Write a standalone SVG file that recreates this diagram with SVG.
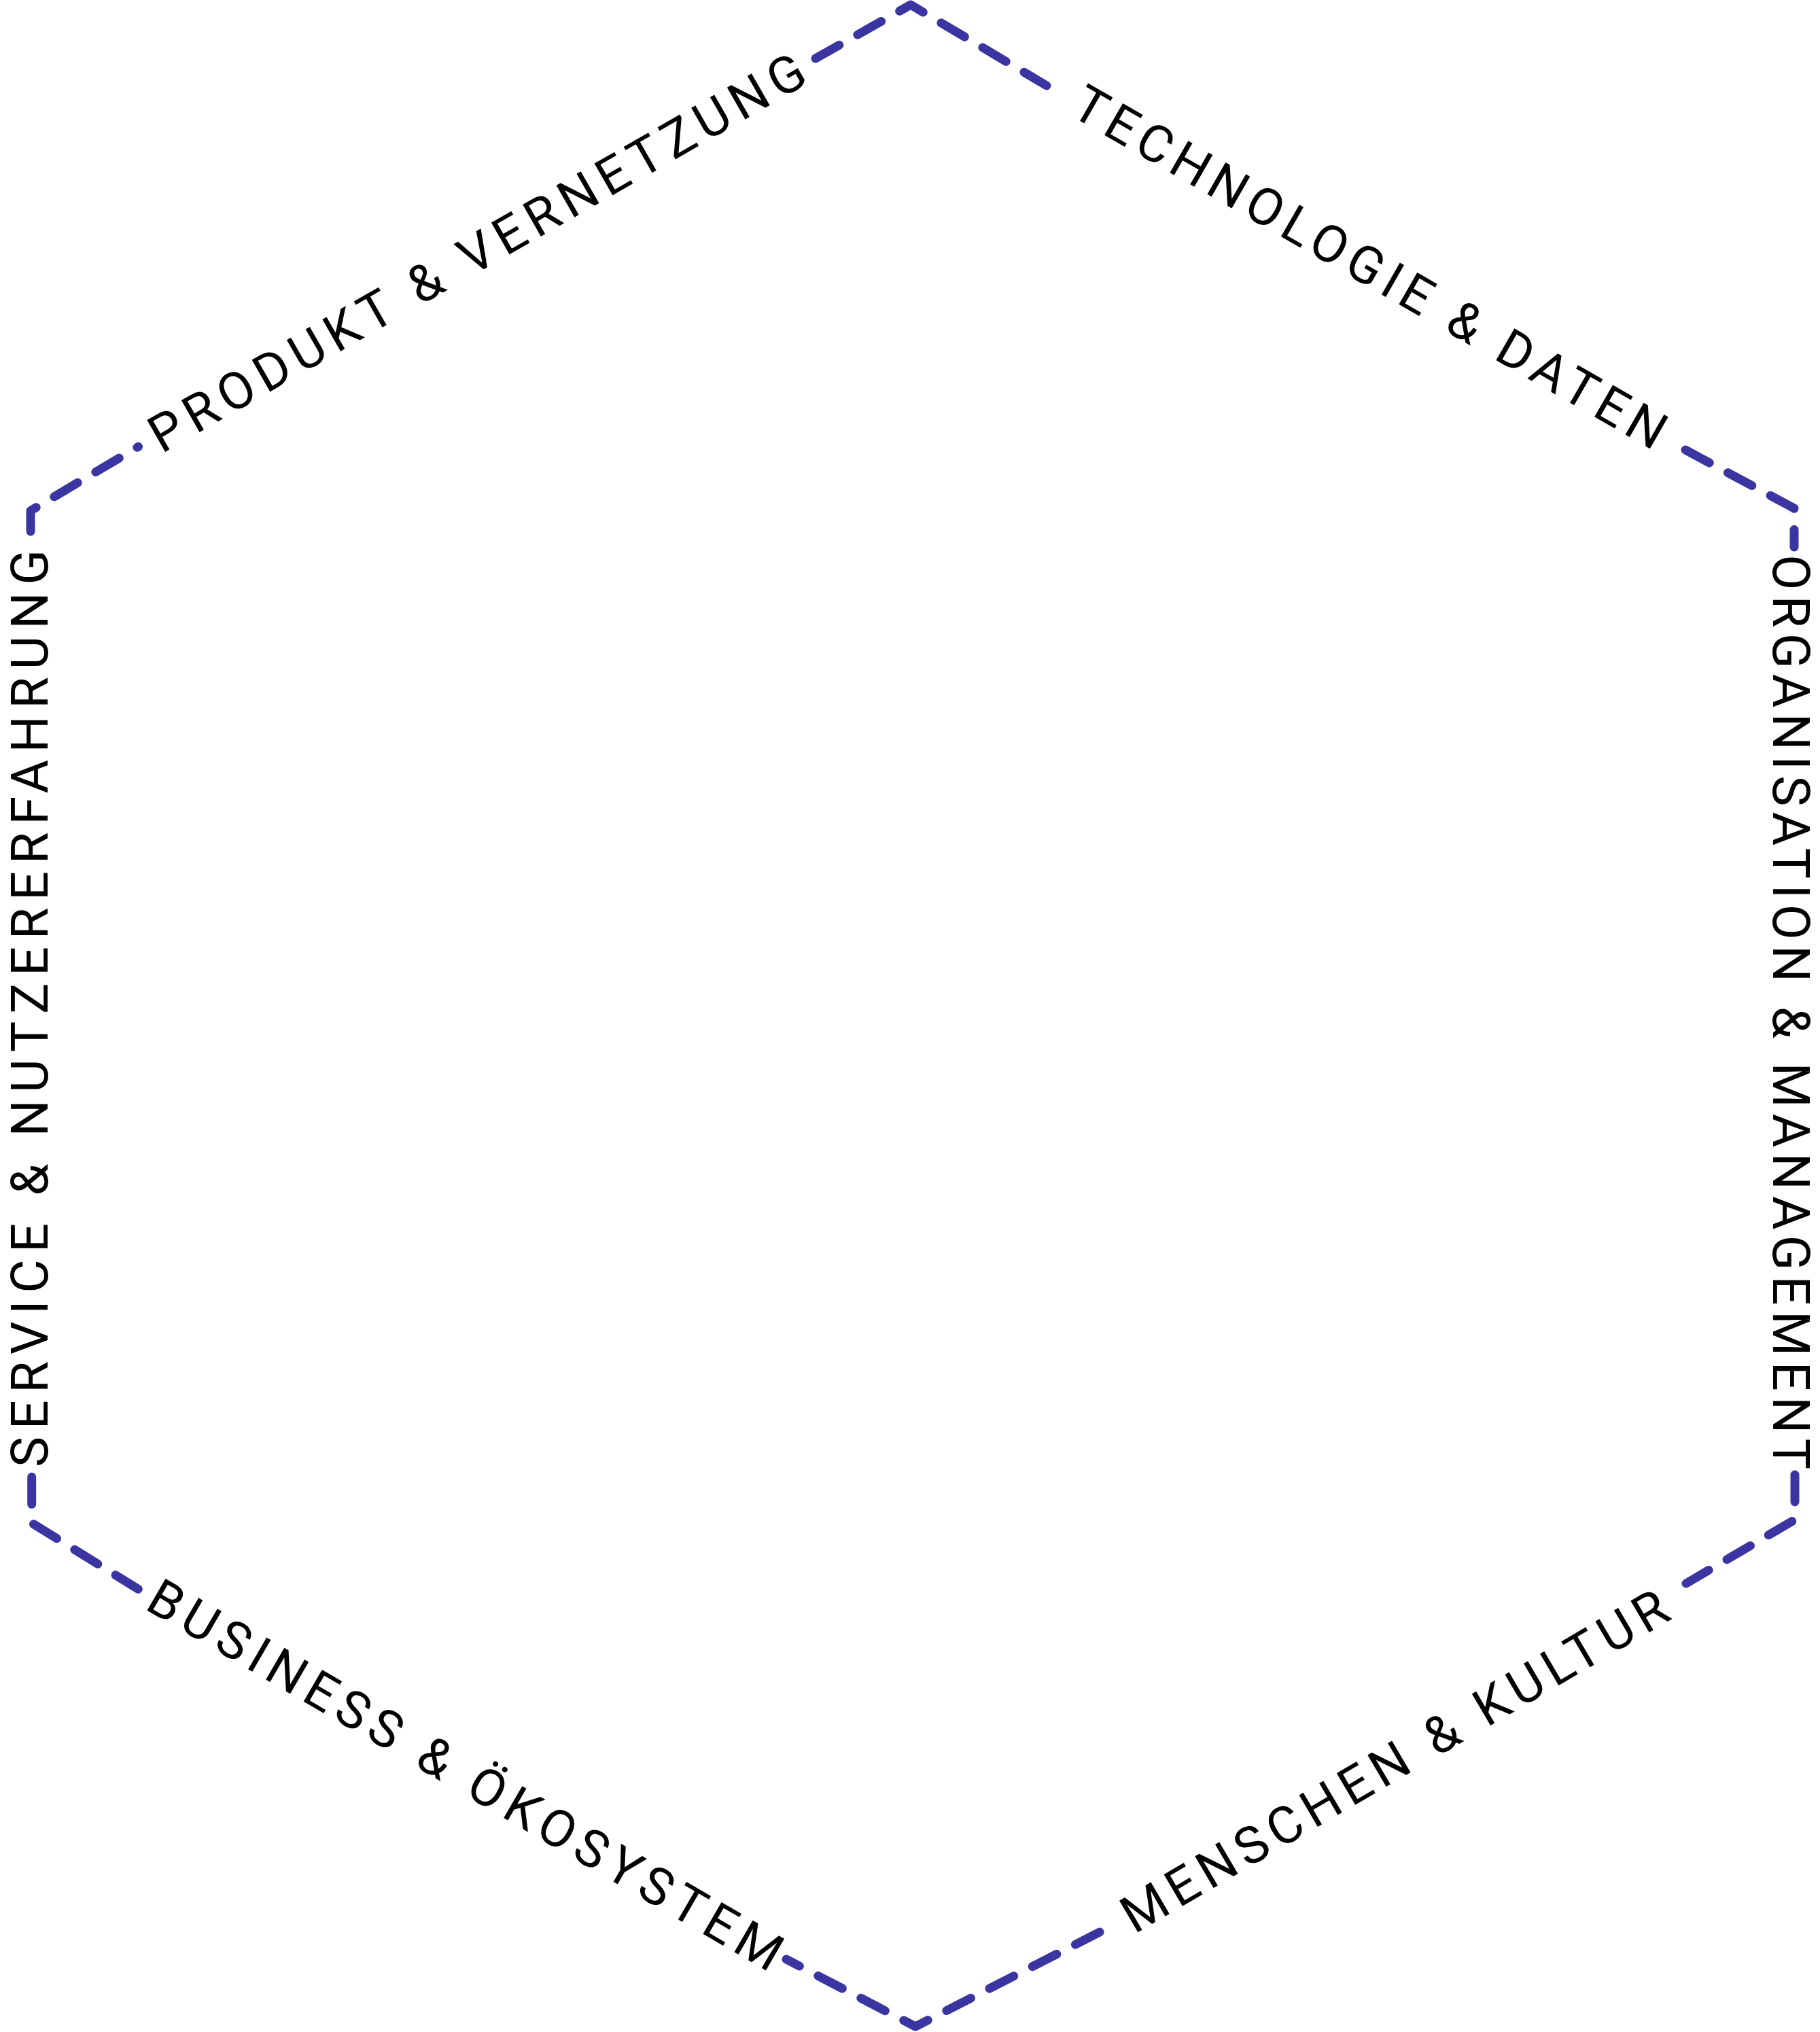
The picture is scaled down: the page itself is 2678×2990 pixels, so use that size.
<svg xmlns="http://www.w3.org/2000/svg" width="2678" height="2990" viewBox="0 0 2678 2990">
  <style>
    .edge { fill: none; stroke: #3a35a0; stroke-width: 13; stroke-linecap: round; stroke-linejoin: round; stroke-dasharray: 40 31; }
    .label { font-family: Roboto, "Liberation Sans", "DejaVu Sans", sans-serif; font-size: 76px; font-weight: 400; fill: #000000; }
  </style>
  <rect x="0" y="0" width="2678" height="2990" fill="#ffffff"/>
  <g id="hexagon-outline">
    <path class="edge" d="M45 782 L45 751.5 L203.5 657.3"/>
    <path class="edge" d="M1200 86 L1340 7 L1540 126"/>
    <path class="edge" d="M2480 662 L2640 748 L2640 805"/>
    <path class="edge" d="M2641 2170 L2641 2236 L2481 2330"/>
    <path class="edge" d="M1618 2843 L1347 2982 L1157 2883"/>
    <path class="edge" d="M46.7 2173.3 L46.7 2241 L203.3 2338.3"/>
  </g>
  <g id="label-produkt">
    <text class="label" transform="translate(243 665) rotate(-29.83)" x="-6" y="0" textLength="1100" lengthAdjust="spacing">PRODUKT &amp; VERNETZUNG</text>
  </g>
  <g id="label-technologie">
    <text class="label" transform="translate(1575 170) rotate(29.9)" x="-3" y="0" textLength="993" lengthAdjust="spacing">TECHNOLOGIE &amp; DATEN</text>
  </g>
  <g id="label-organisation">
    <text class="label" transform="translate(2609 820) rotate(90)" x="-4" y="0" textLength="1346" lengthAdjust="spacing">ORGANISATION &amp; MANAGEMENT</text>
  </g>
  <g id="label-menschen">
    <text class="label" transform="translate(1675 2843) rotate(-30.4)" x="-7" y="0" textLength="919" lengthAdjust="spacing">MENSCHEN &amp; KULTUR</text>
  </g>
  <g id="label-business">
    <text class="label" transform="translate(217 2370) rotate(30.2)" x="-7" y="0" textLength="1066" lengthAdjust="spacing">BUSINESS &amp; ÖKOSYSTEM</text>
  </g>
  <g id="label-service">
    <text class="label" transform="translate(70 2155) rotate(-90)" x="-4" y="0" textLength="1350" lengthAdjust="spacing">SERVICE &amp; NUTZERERFAHRUNG</text>
  </g>
</svg>
